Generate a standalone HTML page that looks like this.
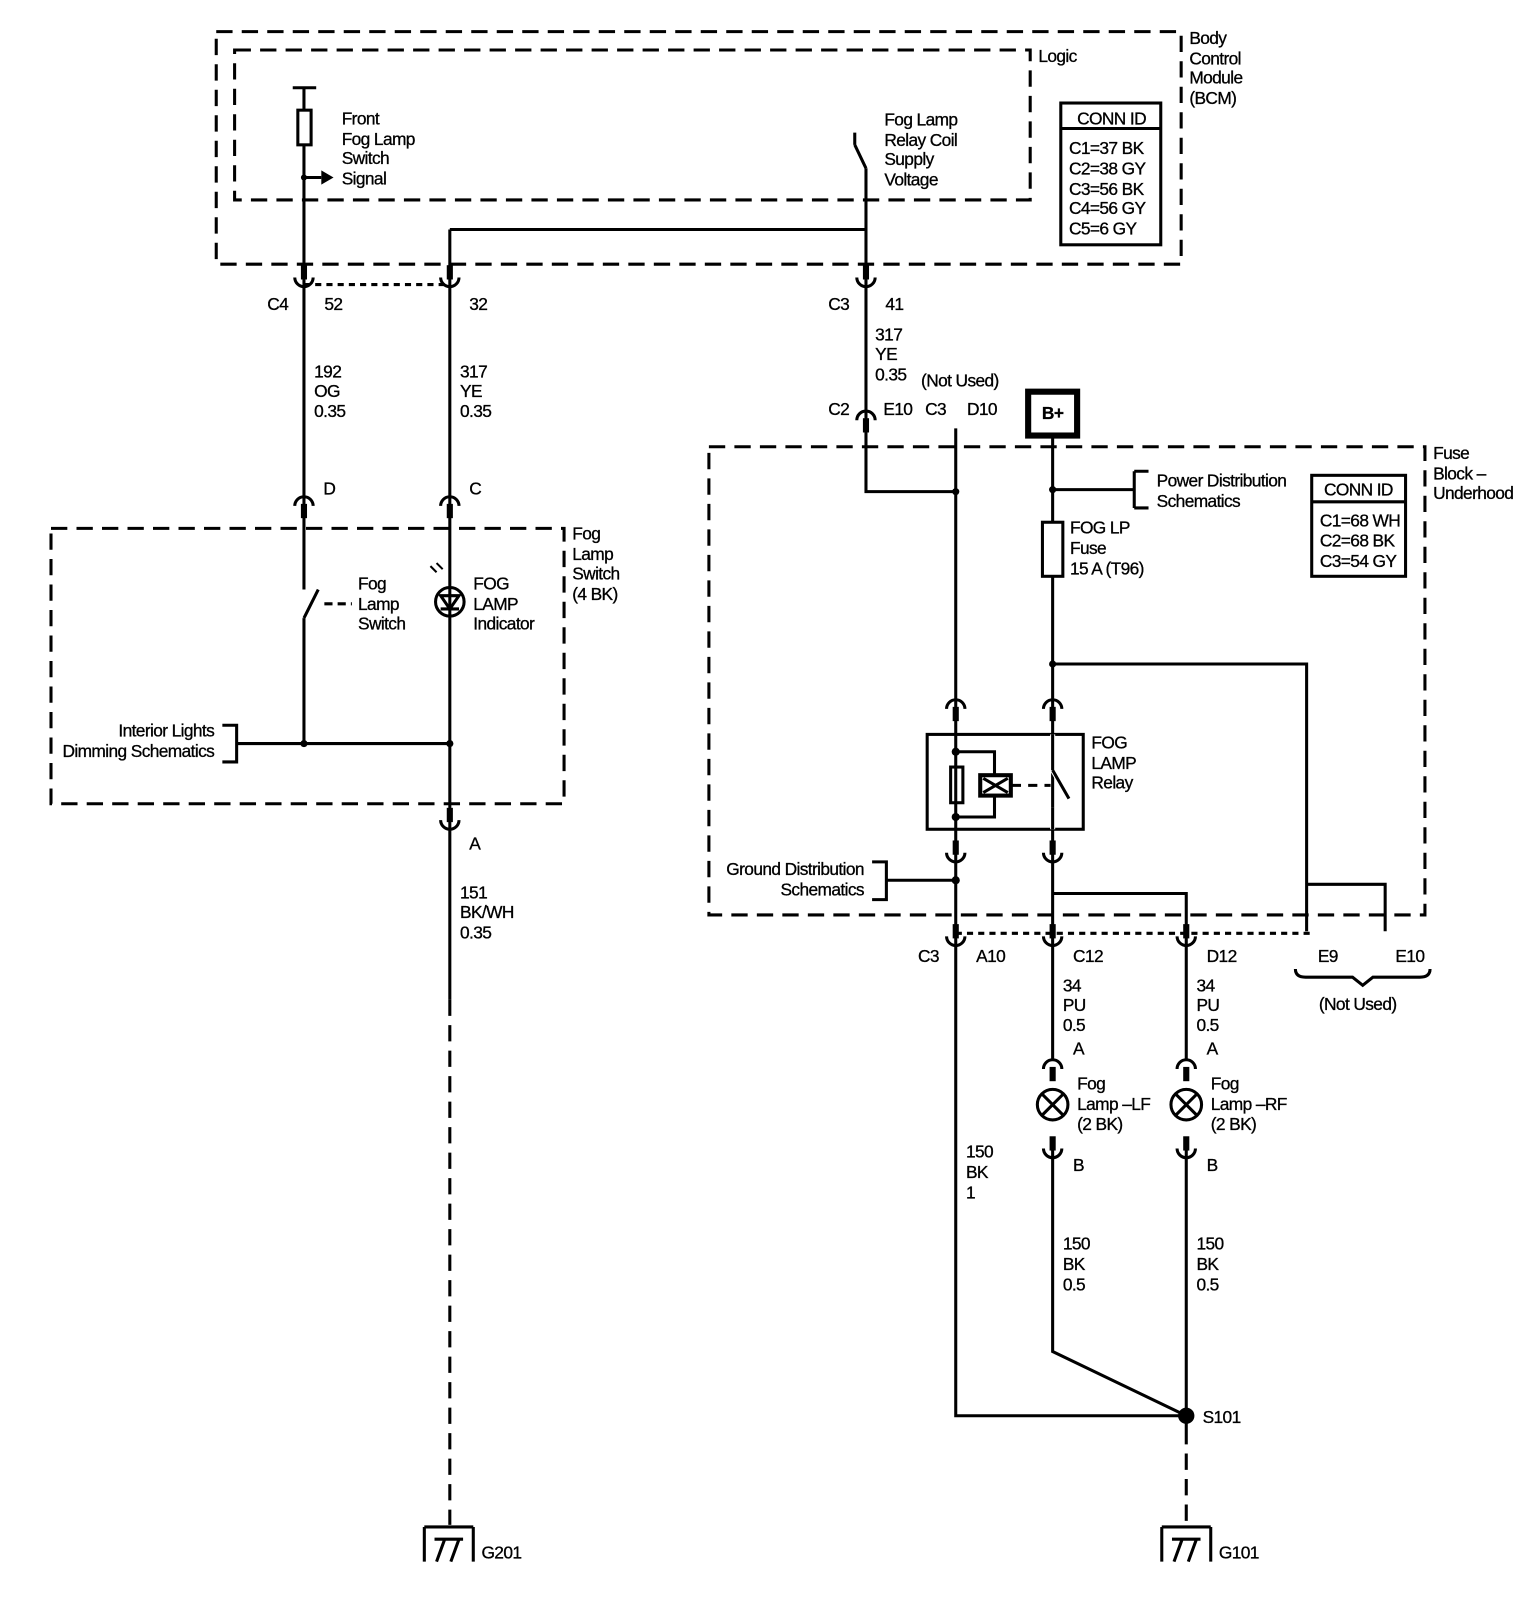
<!DOCTYPE html>
<html><head><meta charset="utf-8"><style>
html,body{margin:0;padding:0;background:#fff;}
svg{display:block;}
text{font-family:"Liberation Sans",sans-serif;font-size:17px;fill:#000;stroke:#000;stroke-width:0.3;letter-spacing:-0.6px;}
</style></head><body>
<svg width="1530" height="1600" viewBox="0 0 1530 1600" xmlns="http://www.w3.org/2000/svg">
<defs>
<g id="cu"><rect x="-3" y="-14" width="6" height="14" fill="#000"/><path d="M-9,-2 A9 9 0 0 0 9,-2" fill="none" stroke="#000" stroke-width="3"/></g>
<g id="cn"><path d="M-9,2 A9 9 0 0 1 9,2" fill="none" stroke="#000" stroke-width="3"/><rect x="-3" y="0" width="6" height="14" fill="#000"/></g>
<g id="gnd"><path d="M-24,0 H24 M-24,0 V34 M24,0 V34 M-12,34 L-4,12 M2,34 L10,12 M-14,12 H14" fill="none" stroke="#000" stroke-width="3"/></g>
</defs>
<g transform="scale(1.02)">
<g fill="none" stroke="#000" stroke-width="3">
<g stroke-dasharray="16,9">
<rect x="212" y="31" width="946" height="228"/>
<rect x="230" y="49" width="780" height="147"/>
<rect x="50" y="518" width="503" height="270"/>
<rect x="695" y="438" width="702" height="459"/>
<path d="M441,980 V1495 M1163,1400 V1495"/>
</g>
<g stroke-dasharray="6,5"><path d="M298,279 H441 M937,915 H1285"/></g>
<rect x="1040" y="101" width="98" height="139"/><path d="M1040,126 H1138"/>
<rect x="1286" y="466" width="92" height="99"/><path d="M1286,492 H1378"/>
<path d="M287,86 H310 M298,86 V108 M298,142 V578 M298,606 V729"/>
<rect x="292" y="108" width="13" height="34"/>
<path d="M298,174 H315"/>
<path d="M441,225 H849 M441,225 V980 M849,165 V482 H937"/>
<path d="M849,165 L838,142 M838,130 V142"/>
<path d="M298,606 L312,578" />
<path d="M318,592 H345" stroke-dasharray="8,5"/>
<circle cx="441" cy="590" r="14"/>
<path d="M432,584 H450 L441,597 Z M432,597 H450" />
<path d="M232,729 H441"/>
<path d="M218,711 H232 V747 H218"/>
<path d="M937,420 V990 M937,990 V1388 H1163"/>
<path d="M1032,427 V512 M1032,565 V1040 M1032,480 H1112 M1112,462 V498 M1112,462 H1126 M1112,498 H1126"/>
<rect x="1022" y="512" width="20" height="53"/>
<path d="M1032,651 H1281 V913 M1281,867 H1358 V913"/>
<rect x="909" y="720" width="153" height="93"/>
<path d="M937,737 H975 V760 M975,780 V801 H937"/>
<rect x="932" y="752" width="12" height="35"/>
<rect x="961" y="760" width="30" height="20" stroke-width="4"/>
<path d="M964,763 L988,777 M988,763 L964,777"/>
<path d="M992,770 H1030" stroke-dasharray="9,7"/>
<path d="M1032,720 V755 L1048,783 M1032,792 V813" stroke="#fff" stroke-width="5"/>
<path d="M1032,755 L1048,783 M1032,720 V755 M1032,792 V813"/>
<path d="M855,845 H869 V882 H855 M869,863 H937"/>
<path d="M1032,876 H1163 V1040"/>
<path d="M1270,950 Q1270,958 1280,958 H1326 L1336,966 L1346,958 H1392 Q1402,958 1402,950"/>
<circle cx="1032" cy="1083" r="15"/><path d="M1022,1073 L1042,1093 M1042,1073 L1022,1093"/>
<circle cx="1163" cy="1083" r="15"/><path d="M1153,1073 L1173,1093 M1173,1073 L1153,1093"/>
<path d="M1032,1125 V1325 L1163,1388 M1163,1125 V1400"/>
<rect x="1008" y="384" width="48" height="43" stroke-width="6"/>
</g>
<path d="M315,167 L327,174 L315,181 Z" fill="#000"/>
<circle cx="1163" cy="1388" r="8" fill="#000"/>
<g fill="#000">
<circle cx="298" cy="174" r="3"/><circle cx="298" cy="729" r="3.5"/><circle cx="441" cy="729" r="3.5"/>
<circle cx="937" cy="482" r="3.5"/><circle cx="1032" cy="480" r="3.5"/><circle cx="1032" cy="651" r="3.5"/>
<circle cx="937" cy="737" r="4"/><circle cx="937" cy="801" r="4"/><circle cx="937" cy="863" r="4"/>
<path d="M422,555 l6,6 M428,552 l6,6" stroke="#000" stroke-width="2"/>
</g>
<use href="#cu" x="298" y="274"/><use href="#cu" x="441" y="274"/><use href="#cu" x="849" y="274"/>
<use href="#cn" x="298" y="494"/><use href="#cn" x="441" y="494"/><use href="#cn" x="849" y="410"/>
<use href="#cu" x="441" y="806"/>
<use href="#cn" x="937" y="693"/><use href="#cn" x="1032" y="693"/>
<use href="#cu" x="937" y="838"/><use href="#cu" x="1032" y="838"/>
<use href="#cu" x="937" y="920"/><use href="#cu" x="1032" y="920"/><use href="#cu" x="1163" y="920"/>
<use href="#cn" x="1032" y="1046"/><use href="#cn" x="1163" y="1046"/>
<use href="#cu" x="1032" y="1128"/><use href="#cu" x="1163" y="1128"/>
<use href="#gnd" x="440" y="1497"/><use href="#gnd" x="1163" y="1497"/>
<g>
<text x="1166" y="43">Body</text><text x="1166" y="63">Control</text><text x="1166" y="82">Module</text><text x="1166" y="102">(BCM)</text>
<text x="1018" y="61">Logic</text>
<text x="1056" y="122">CONN ID</text>
<text x="1048" y="151">C1=37 BK</text><text x="1048" y="171">C2=38 GY</text><text x="1048" y="191">C3=56 BK</text><text x="1048" y="210">C4=56 GY</text><text x="1048" y="230">C5=6 GY</text>
<text x="335" y="122">Front</text><text x="335" y="142">Fog Lamp</text><text x="335" y="161">Switch</text><text x="335" y="181">Signal</text>
<text x="867" y="123">Fog Lamp</text><text x="867" y="143">Relay Coil</text><text x="867" y="162">Supply</text><text x="867" y="182">Voltage</text>
<text x="262" y="304">C4</text><text x="318" y="304">52</text><text x="460" y="304">32</text>
<text x="308" y="370">192</text><text x="308" y="389">OG</text><text x="308" y="409">0.35</text>
<text x="451" y="370">317</text><text x="451" y="389">YE</text><text x="451" y="409">0.35</text>
<text x="317" y="485">D</text><text x="460" y="485">C</text>
<text x="561" y="529">Fog</text><text x="561" y="549">Lamp</text><text x="561" y="568">Switch</text><text x="561" y="588">(4 BK)</text>
<text x="351" y="578">Fog</text><text x="351" y="598">Lamp</text><text x="351" y="617">Switch</text>
<text x="464" y="578">FOG</text><text x="464" y="598">LAMP</text><text x="464" y="617">Indicator</text>
<text x="210" y="722" text-anchor="end">Interior Lights</text><text x="210" y="742" text-anchor="end">Dimming Schematics</text>
<text x="460" y="833">A</text>
<text x="451" y="881">151</text><text x="451" y="900">BK/WH</text><text x="451" y="920">0.35</text>
<text x="472" y="1528">G201</text>
<text x="812" y="304">C3</text><text x="868" y="304">41</text>
<text x="858" y="334">317</text><text x="858" y="353">YE</text><text x="858" y="373">0.35</text>
<text x="903" y="379">(Not Used)</text>
<text x="812" y="407">C2</text><text x="866" y="407">E10</text><text x="907" y="407">C3</text><text x="948" y="407">D10</text>
<text x="1032" y="411" text-anchor="middle" style="font-weight:bold">B+</text>
<text x="1405" y="450">Fuse</text><text x="1405" y="470">Block –</text><text x="1405" y="489">Underhood</text>
<text x="1134" y="477">Power Distribution</text><text x="1134" y="497">Schematics</text>
<text x="1298" y="486">CONN ID</text>
<text x="1294" y="516">C1=68 WH</text><text x="1294" y="536">C2=68 BK</text><text x="1294" y="556">C3=54 GY</text>
<text x="1049" y="523">FOG LP</text><text x="1049" y="543">Fuse</text><text x="1049" y="563">15 A (T96)</text>
<text x="1070" y="734">FOG</text><text x="1070" y="754">LAMP</text><text x="1070" y="773">Relay</text>
<text x="847" y="858" text-anchor="end">Ground Distribution</text><text x="847" y="878" text-anchor="end">Schematics</text>
<text x="900" y="943">C3</text><text x="957" y="943">A10</text><text x="1052" y="943">C12</text><text x="1183" y="943">D12</text><text x="1292" y="943">E9</text><text x="1368" y="943">E10</text>
<text x="1293" y="990">(Not Used)</text>
<text x="1042" y="972">34</text><text x="1042" y="991">PU</text><text x="1042" y="1011">0.5</text>
<text x="1173" y="972">34</text><text x="1173" y="991">PU</text><text x="1173" y="1011">0.5</text>
<text x="1052" y="1034">A</text><text x="1183" y="1034">A</text>
<text x="1056" y="1068">Fog</text><text x="1056" y="1088">Lamp –LF</text><text x="1056" y="1108">(2 BK)</text>
<text x="1187" y="1068">Fog</text><text x="1187" y="1088">Lamp –RF</text><text x="1187" y="1108">(2 BK)</text>
<text x="1052" y="1148">B</text><text x="1183" y="1148">B</text>
<text x="947" y="1135">150</text><text x="947" y="1155">BK</text><text x="947" y="1175">1</text>
<text x="1042" y="1225">150</text><text x="1042" y="1245">BK</text><text x="1042" y="1265">0.5</text>
<text x="1173" y="1225">150</text><text x="1173" y="1245">BK</text><text x="1173" y="1265">0.5</text>
<text x="1179" y="1395">S101</text>
<text x="1195" y="1528">G101</text>
</g>
</g>
</svg>
</body></html>
